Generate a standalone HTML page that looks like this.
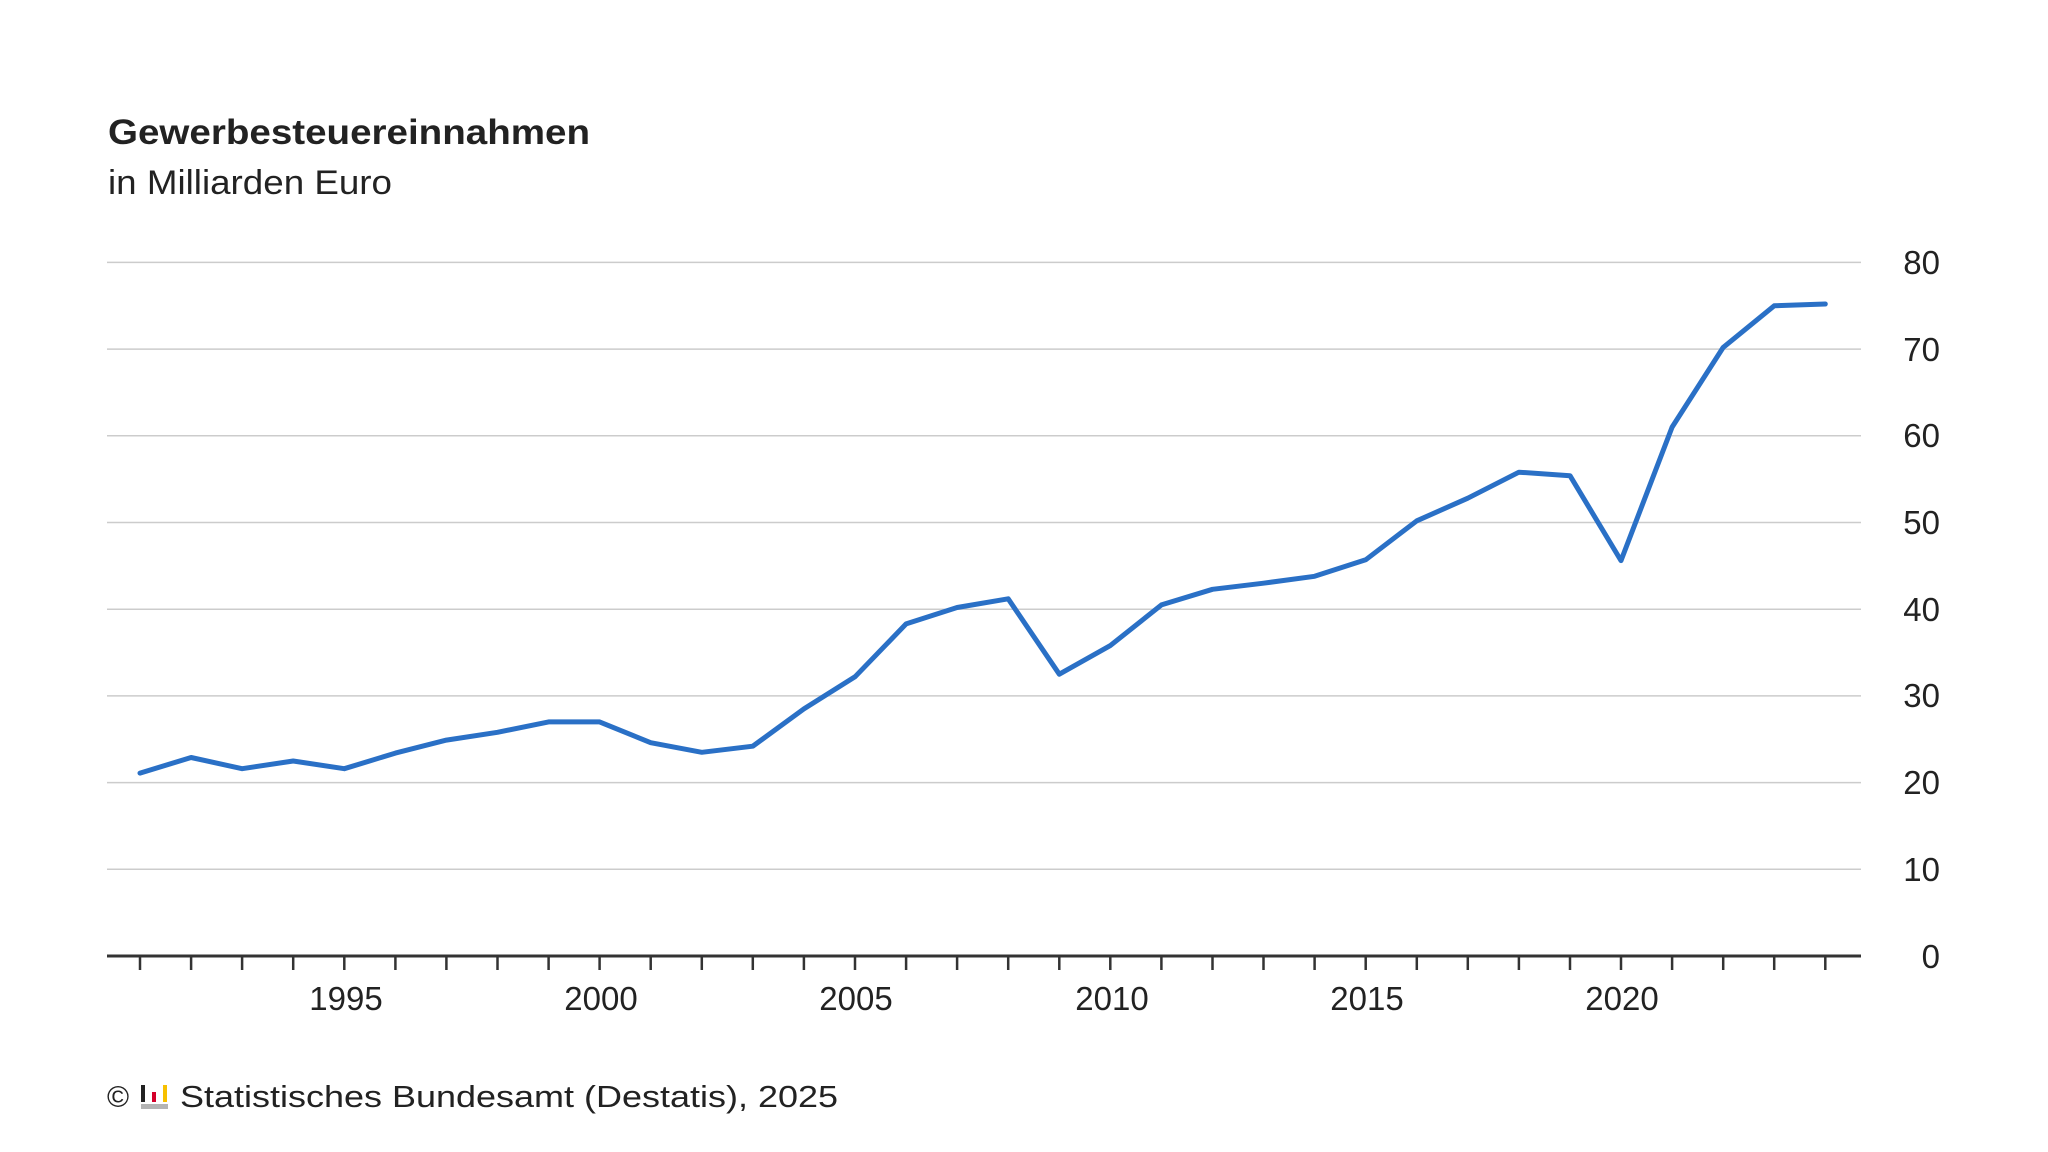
<!DOCTYPE html>
<html><head><meta charset="utf-8"><style>
html,body{margin:0;padding:0;background:#fff;}
svg{display:block;}
text{font-family:"Liberation Sans",sans-serif;fill:#222;}
</style></head><body>
<svg width="2048" height="1152" viewBox="0 0 2048 1152" xmlns="http://www.w3.org/2000/svg">
<text x="108" y="144" font-size="35" font-weight="bold" textLength="482" lengthAdjust="spacingAndGlyphs">Gewerbesteuereinnahmen</text>
<text x="108" y="194" font-size="34" textLength="284" lengthAdjust="spacingAndGlyphs">in Milliarden Euro</text>
<g stroke="#cccccc" stroke-width="1.5">
<line x1="107" x2="1861" y1="262.4" y2="262.4"/>
<line x1="107" x2="1861" y1="349.1" y2="349.1"/>
<line x1="107" x2="1861" y1="435.8" y2="435.8"/>
<line x1="107" x2="1861" y1="522.5" y2="522.5"/>
<line x1="107" x2="1861" y1="609.2" y2="609.2"/>
<line x1="107" x2="1861" y1="695.9" y2="695.9"/>
<line x1="107" x2="1861" y1="782.6" y2="782.6"/>
<line x1="107" x2="1861" y1="869.3" y2="869.3"/>
</g>
<g font-size="33" text-anchor="end">
<text x="1940" y="274">80</text>
<text x="1940" y="361">70</text>
<text x="1940" y="447">60</text>
<text x="1940" y="534">50</text>
<text x="1940" y="621">40</text>
<text x="1940" y="707">30</text>
<text x="1940" y="794">20</text>
<text x="1940" y="881">10</text>
<text x="1940" y="968">0</text>
</g>
<g stroke="#333" stroke-width="2.5">
<line x1="140" x2="140" y1="956" y2="970"/><line x1="191.1" x2="191.1" y1="956" y2="970"/><line x1="242.1" x2="242.1" y1="956" y2="970"/><line x1="293.2" x2="293.2" y1="956" y2="970"/><line x1="344.3" x2="344.3" y1="956" y2="970"/><line x1="395.4" x2="395.4" y1="956" y2="970"/><line x1="446.4" x2="446.4" y1="956" y2="970"/><line x1="497.5" x2="497.5" y1="956" y2="970"/><line x1="548.6" x2="548.6" y1="956" y2="970"/><line x1="599.6" x2="599.6" y1="956" y2="970"/><line x1="650.7" x2="650.7" y1="956" y2="970"/><line x1="701.8" x2="701.8" y1="956" y2="970"/><line x1="752.8" x2="752.8" y1="956" y2="970"/><line x1="803.9" x2="803.9" y1="956" y2="970"/><line x1="855" x2="855" y1="956" y2="970"/><line x1="906.1" x2="906.1" y1="956" y2="970"/><line x1="957.1" x2="957.1" y1="956" y2="970"/><line x1="1008.2" x2="1008.2" y1="956" y2="970"/><line x1="1059.3" x2="1059.3" y1="956" y2="970"/><line x1="1110.3" x2="1110.3" y1="956" y2="970"/><line x1="1161.4" x2="1161.4" y1="956" y2="970"/><line x1="1212.5" x2="1212.5" y1="956" y2="970"/><line x1="1263.5" x2="1263.5" y1="956" y2="970"/><line x1="1314.6" x2="1314.6" y1="956" y2="970"/><line x1="1365.7" x2="1365.7" y1="956" y2="970"/><line x1="1416.8" x2="1416.8" y1="956" y2="970"/><line x1="1467.8" x2="1467.8" y1="956" y2="970"/><line x1="1518.9" x2="1518.9" y1="956" y2="970"/><line x1="1570" x2="1570" y1="956" y2="970"/><line x1="1621" x2="1621" y1="956" y2="970"/><line x1="1672.1" x2="1672.1" y1="956" y2="970"/><line x1="1723.2" x2="1723.2" y1="956" y2="970"/><line x1="1774.2" x2="1774.2" y1="956" y2="970"/><line x1="1825.3" x2="1825.3" y1="956" y2="970"/>
</g>
<line x1="107" x2="1861" y1="956" y2="956" stroke="#333" stroke-width="3"/>
<g font-size="33" text-anchor="middle">
<text x="346" y="1021" dy="-11">1995</text>
<text x="601" y="1021" dy="-11">2000</text>
<text x="856" y="1021" dy="-11">2005</text>
<text x="1112" y="1021" dy="-11">2010</text>
<text x="1367" y="1021" dy="-11">2015</text>
<text x="1622" y="1021" dy="-11">2020</text>
</g>
<polyline fill="none" stroke="#2a70c6" stroke-width="5" stroke-linejoin="round" stroke-linecap="round" points="140,773.1 191.1,757.5 242.1,768.7 293.2,761 344.3,768.7 395.4,753.1 446.4,740.1 497.5,732.3 548.6,721.9 599.6,721.9 650.7,742.7 701.8,752.3 752.8,746.2 803.9,708.9 855,676.8 906.1,623.9 957.1,607.5 1008.2,598.8 1059.3,674.2 1110.3,645.6 1161.4,604.9 1212.5,589.3 1263.5,583.2 1314.6,576.3 1365.7,559.8 1416.8,520.8 1467.8,498.2 1518.9,472.2 1570,475.7 1621,560.6 1672.1,427.1 1723.2,347.4 1774.2,305.8 1825.3,304"/>
<text x="107" y="1107" font-size="30">©</text>
<rect x="141" y="1085" width="4" height="17" fill="#222"/>
<rect x="152" y="1092" width="4" height="10" fill="#d4002a"/>
<rect x="163" y="1085" width="4" height="17" fill="#f7c000"/>
<rect x="141" y="1104" width="27" height="5" fill="#b4b4b4"/>
<text x="180" y="1107" font-size="31" textLength="658" lengthAdjust="spacingAndGlyphs">Statistisches Bundesamt (Destatis), 2025</text>
</svg>
</body></html>
